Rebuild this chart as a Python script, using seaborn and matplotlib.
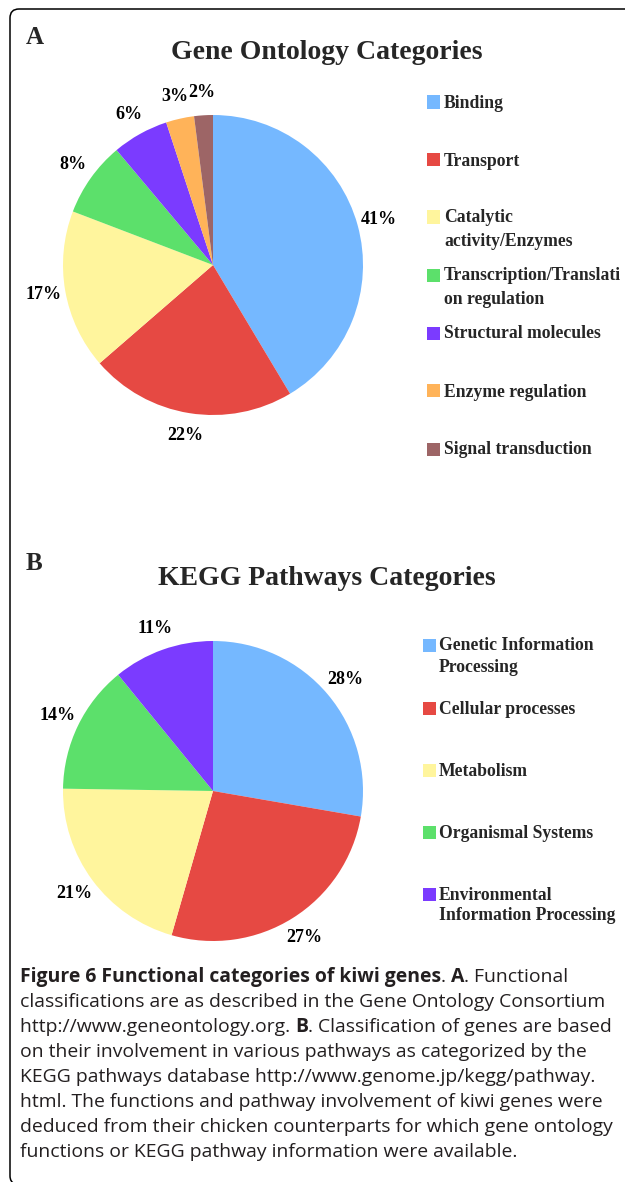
import numpy as np
import matplotlib
matplotlib.use("Agg")
import matplotlib.pyplot as plt
import seaborn as sns
from matplotlib.patches import Rectangle, PathPatch
from matplotlib.path import Path

# ---------------- data ----------------
go_title = "Gene Ontology Categories"
go_categories = ["Binding", "Transport", "Catalytic\nactivity/Enzymes",
                 "Transcription/Translati\non regulation", "Structural molecules",
                 "Enzyme regulation", "Signal transduction"]
go_values = [41, 22, 17, 8, 6, 3, 2]
go_colors = ["#75b8ff", "#e64943", "#fff59d", "#5ce06b", "#7b3bff", "#ffb359", "#9d6566"]

kegg_title = "KEGG Pathways Categories"
kegg_categories = ["Genetic Information\nProcessing", "Cellular processes", "Metabolism",
                   "Organismal Systems", "Environmental\nInformation Processing"]
kegg_values = [28, 27, 21, 14, 11]
kegg_colors = ["#75b8ff", "#e64943", "#fff59d", "#5ce06b", "#7b3bff"]

caption_lines = [
    [("Figure 6 Functional categories of kiwi genes", "bold"), (". ", "normal"),
     ("A", "bold"), (". Functional", "normal")],
    [("classifications are as described in the Gene Ontology Consortium", "normal")],
    [("http://www.geneontology.org. ", "normal"), ("B", "bold"),
     (". Classification of genes are based", "normal")],
    [("on their involvement in various pathways as categorized by the", "normal")],
    [("KEGG pathways database http://www.genome.jp/kegg/pathway.", "normal")],
    [("html. The functions and pathway involvement of kiwi genes were", "normal")],
    [("deduced from their chicken counterparts for which gene ontology", "normal")],
    [("functions or KEGG pathway information were available.", "normal")],
]

# ---------------- layout ----------------
sns.set_theme(style="white")
plt.rcParams["font.family"] = ["Liberation Serif", "DejaVu Serif"]

W, H = 625, 1182
fig = plt.figure(figsize=(W / 100, H / 100), dpi=100)
fig.patch.set_facecolor("white")


def fx(x):
    return x / W


def fy(y):
    return 1 - y / H


# frame: top and left border with rounded top-left corner
verts = [(fx(630), fy(9)), (fx(19), fy(9)), (fx(10), fy(9)), (fx(10), fy(18)),
         (fx(10), fy(1176)), (fx(10), fy(1182)), (fx(15), fy(1184))]
codes = [Path.MOVETO, Path.LINETO, Path.CURVE3, Path.CURVE3,
         Path.LINETO, Path.CURVE3, Path.CURVE3]
fig.patches.append(PathPatch(Path(verts, codes), transform=fig.transFigure,
                             fill=False, edgecolor="black", linewidth=1.1))


def draw_pie(cx, cy, r, values, colors, title, title_y, letter, letter_xy):
    ax = fig.add_axes([fx(cx - r), fy(cy + r), (2 * r) / W, (2 * r) / H])
    labels = [f"{v}%" for v in values]
    wedges, texts = ax.pie(values, colors=sns.color_palette(colors), startangle=90,
                           counterclock=False, labels=labels, labeldistance=1.15,
                           wedgeprops=dict(linewidth=0),
                           textprops=dict(fontsize=13, fontweight="bold", color="black"))
    for t in texts:
        t.set_ha("center")
        t.set_va("center")
    ax.set_xlim(-1, 1)
    ax.set_ylim(-1, 1)
    ax.set_aspect("equal")
    ax.axis("off")
    fig.text(fx(327), fy(title_y), title, ha="center", va="baseline",
             fontsize=20, fontweight="bold")
    fig.text(fx(letter_xy[0]), fy(letter_xy[1]), letter, ha="left", va="baseline",
             fontsize=18, fontweight="bold")
    return ax


draw_pie(213, 265, 150, go_values, go_colors, go_title, 59, "A", (26, 44))
draw_pie(213, 791, 150, kegg_values, kegg_colors, kegg_title, 585, "B", (26, 570))


def draw_legend(names, colors, sq_x, text_x, centers, line_px):
    for name, col, yc in zip(names, colors, centers):
        fig.patches.append(Rectangle((fx(sq_x), fy(yc + 6.5)), 13 / W, 13 / H,
                                     transform=fig.transFigure, facecolor=col,
                                     edgecolor="none"))
        for i, line in enumerate(name.split("\n")):
            fig.text(fx(text_x), fy(yc + 5.5 + i * line_px), line, ha="left",
                     va="baseline", fontsize=12.7, fontweight="bold")


draw_legend(go_categories, go_colors, 427, 444,
            [102, 160, 217, 275, 333, 391, 449], 23)
draw_legend(kegg_categories, kegg_colors, 423, 439,
            [645, 708, 770, 832, 894], 21)

# ---------------- caption ----------------
cap_family = ["Open Sans", "DejaVu Sans"]
renderer = fig.canvas.get_renderer()
probe = fig.text(0, 0, caption_lines[1][0][0], fontsize=12, family=cap_family)
wpx = probe.get_window_extent(renderer).width
probe.remove()
cap_size = 12 * 582 / wpx

cap_x0 = 20
cap_y = [976, 1001, 1026, 1051, 1076, 1101, 1126, 1151]
for runs, yc in zip(caption_lines, cap_y):
    x = cap_x0
    for txt, wt in runs:
        t = fig.text(fx(x), fy(yc + 6), txt, ha="left", va="baseline",
                     fontsize=cap_size, fontweight=wt, family=cap_family,
                     color="#231f20")
        x += t.get_window_extent(renderer).width

fig.savefig("out.png", dpi=100, facecolor="white")
